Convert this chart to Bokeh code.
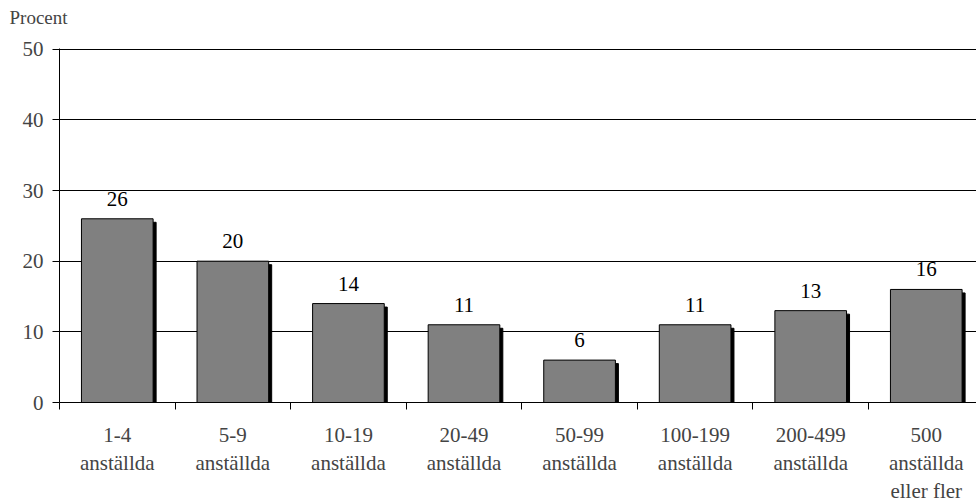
import numpy as np
from bokeh.plotting import figure
from bokeh.models import ColumnDataSource, LinearAxis, FixedTicker, Range1d
from bokeh.embed import file_html
from bokeh.resources import INLINE

categories = ["1-4\nanställda", "5-9\nanställda", "10-19\nanställda", "20-49\nanställda",
              "50-99\nanställda", "100-199\nanställda", "200-499\nanställda", "500\nanställda\neller fler"]
values = [26, 20, 14, 11, 6, 11, 13, 16]
y_ticks = [0, 10, 20, 30, 40, 50]
y_title = "Procent"

FONT = "Liberation Serif"
n = len(categories)
xs = np.arange(n) + 0.5
vals = np.array(values, dtype=float)

W, H = 976, 513
ML, MB, MT = 59, 111, 48
frame_w = W - ML
cat_px = 115.57
x_end = frame_w / cat_px
frame_h = H - MB - MT
y_end = 50.1
px_x = x_end / frame_w
px_y = y_end / frame_h

p = figure(width=W, height=H, output_backend="svg", toolbar_location=None,
           x_range=Range1d(0, x_end), y_range=Range1d(0, y_end),
           min_border_left=ML, min_border_right=0, min_border_bottom=MB, min_border_top=MT,
           x_axis_location=None, y_axis_location=None)
p.outline_line_color = None
p.background_fill_color = "white"

# title: a trailing empty line lifts "Procent" to the top of the page
p.title.text = y_title + "\n"
p.title.text_font = FONT
p.title.text_font_size = "19px"
p.title.text_font_style = "normal"
p.title.text_line_height = 1.0
p.title.align = "left"
p.title.offset = -50
p.title.standoff = 0

# grid
p.xgrid.visible = False
p.ygrid.ticker = FixedTicker(ticks=y_ticks[1:])
p.ygrid.grid_line_color = "black"
p.ygrid.grid_line_width = 1

# y axis
yax = LinearAxis(ticker=FixedTicker(ticks=y_ticks))
yax.major_tick_out = 7
yax.major_tick_in = 0
yax.minor_tick_line_color = None
yax.axis_line_color = "black"
yax.major_tick_line_color = "black"
yax.major_label_text_font = FONT
yax.major_label_text_font_size = "21px"
yax.major_label_standoff = 9
p.add_layout(yax, "left")

# x axis: labels at category centres, tick marks between categories (minor ticks)
xax = LinearAxis(ticker=FixedTicker(ticks=list(xs), minor_ticks=list(range(n + 1))))
xax.major_label_overrides = {float(x): c for x, c in zip(xs, categories)}
xax.axis_line_color = "black"
xax.major_tick_line_color = None
xax.major_tick_out = 7
xax.major_tick_in = 0
xax.minor_tick_line_color = "black"
xax.minor_tick_out = 7
xax.minor_tick_in = 0
xax.major_label_text_font = FONT
xax.major_label_text_font_size = "21px"
xax.major_label_standoff = 13
xax.major_label_text_line_height = 1.18
p.add_layout(xax, "below")

bw = 0.62
src = ColumnDataSource(dict(x=xs, top=vals, sx=xs + 3 * px_x, stop=vals - 3.5 * px_y,
                            lbl=[str(v) for v in values]))
p.vbar(x="sx", top="stop", bottom=0, width=bw, source=src, fill_color="black", line_color="black")
p.vbar(x="x", top="top", bottom=0, width=bw, source=src, fill_color="#808080", line_color="black",
       line_width=1)
p.text(x="x", y="top", text="lbl", source=src, text_align="center", text_baseline="bottom",
       y_offset=-13, text_font={"value": FONT}, text_font_size="21px", text_color="black")

open("out.html", "w").write(file_html(p, INLINE))
